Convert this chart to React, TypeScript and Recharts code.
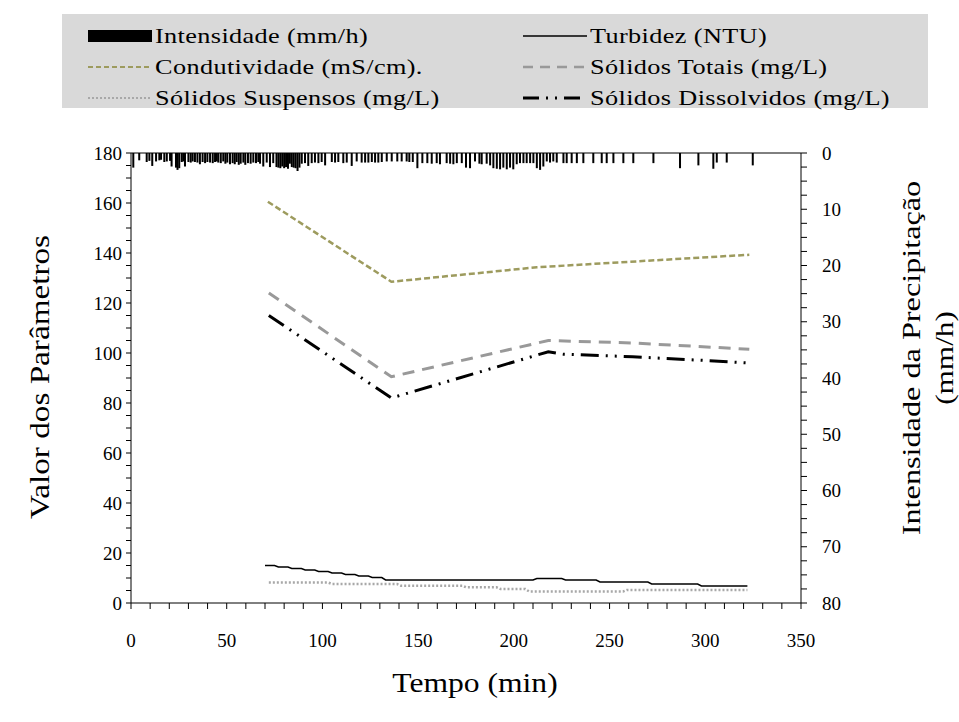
import {Bar, ComposedChart, Line, ReferenceLine, XAxis, YAxis} from "recharts";

// precipitação: tempo (min) e intensidade (mm/h)
const rainTime = [
  1.2, 4.3, 8.2, 9.6, 11.1, 13.1, 14.8, 15.7, 17.4, 18.7, 20.4, 21.2, 23.5, 24.3, 25.2, 26.5, 27.3, 28.2,
  30, 31.2, 32.2, 33.4, 34.7, 36, 37.4, 38.7, 39.9, 41.3, 42.7, 43.9, 44.8, 45.6, 46.9, 48.2, 49.3, 50.3,
  51.7, 53.1, 54.2, 55.2, 56.3, 57.3, 58.7, 59.7, 61.1, 62.5, 63.9, 65.3, 66.5, 67.4, 69.1, 70.9, 72.6, 74.3,
  76, 77, 78, 79, 80, 81, 82, 83, 84, 85, 86, 87, 88, 89.2, 90.9, 92.6, 94.4, 96.1, 97.9, 99.6, 101.4,
  104.9, 106.6, 108.3, 110.9, 112.7, 115.3, 117.9, 120.5, 122.3, 124, 125.8, 127.5, 129.2, 131, 133.6, 136.2,
  139.1, 141.4, 144, 145.4, 147.2, 149.6, 152.2, 154.8, 157.1, 159.7, 161.4, 164.9, 166.7, 168.4, 170.2,
  172.8, 175, 177.1, 179.7, 182, 183.2, 185.8, 187.6, 189.3, 191.1, 192.8, 194.5, 196.3, 198, 199.7, 201.5,
  203.2, 205, 206.7, 208.5, 210.2, 212, 213.7, 215.4, 217.2, 218.9, 220.6, 222.4, 225.9, 227.6, 230.2,
  232.9, 236.3, 241.5, 245.9, 248.5, 252, 257.2, 262.4, 272.9, 286.8, 296.4, 304.2, 306, 311.2, 324.8,
];
const rainValue = [
  2.6, 1.3, 1.6, 1.4, 2.3, 1.5, 1.3, 1.2, 1.6, 1.5, 1.4, 2.4, 2.6, 3.0, 2.7, 1.6, 1.5, 2.4,
  1.6, 1.7, 1.5, 1.6, 1.7, 2.0, 1.6, 1.8, 1.6, 1.7, 1.8, 1.6, 1.5, 1.7, 1.8, 1.5, 1.9, 1.7,
  2.0, 1.8, 2.0, 1.6, 2.1, 1.9, 1.7, 2.1, 1.8, 1.9, 1.7, 1.8, 1.6, 1.9, 2.4, 1.7, 2.5, 1.8,
  2.5, 2.6, 2.7, 2.4, 2.7, 2.5, 2.8, 1.9, 2.5, 2.6, 2.7, 3.2, 2.6, 1.9, 1.8, 2.3, 1.8, 1.7, 1.8, 1.6, 2.2,
  1.6, 1.7, 1.6, 1.8, 1.7, 2.3, 1.5, 1.7, 1.7, 1.7, 1.6, 1.7, 1.7, 1.6, 1.5, 1.5,
  1.5, 1.5, 1.5, 1.6, 1.6, 2.7, 1.8, 1.8, 1.9, 1.8, 2.0, 1.8, 1.9, 2.0, 1.8,
  1.8, 2.6, 2.7, 1.5, 1.9, 2.0, 1.9, 2.2, 2.7, 2.8, 2.9, 2.6, 2.9, 2.6, 2.9, 2.0,
  1.8, 1.8, 1.8, 1.8, 1.8, 2.7, 3.0, 2.4, 1.5, 1.7, 1.5, 1.7, 1.8, 1.8, 1.8,
  1.8, 1.8, 1.8, 1.8, 1.8, 1.8, 1.8, 1.8, 1.8, 2.7, 2.2, 2.8, 1.7, 1.7, 2.2,
];

// turbidez (NTU)
const turbTime = [70, 75, 77, 82, 84, 89, 91, 96, 98, 103, 105, 110, 112, 117, 119, 124, 126, 131, 133, 210, 212, 225, 227, 243, 245, 270, 272, 296, 298, 322];
const turbValue = [15, 15, 14.4, 14.4, 13.8, 13.8, 13.2, 13.2, 12.6, 12.6, 12, 12, 11.4, 11.4, 10.8, 10.8, 10.2, 10.2, 9.2, 9.2, 9.8, 9.8, 9.2, 9.2, 8.4, 8.4, 7.6, 7.6, 6.8, 6.8];

// condutividade (mS/cm)
const condTime = [71.5, 136, 212, 323];
const condValue = [160.5, 128.5, 134.3, 139.3];

// sólidos totais (mg/L)
const stTime = [72, 136, 218, 262, 323];
const stValue = [124, 90.5, 105, 104, 101.5];

// sólidos suspensos (mg/L)
const ssTime = [72, 103, 105, 139, 141, 173, 175, 191, 193, 206, 208, 257, 259, 322];
const ssValue = [8.2, 8.2, 7.6, 7.6, 6.9, 6.9, 6.3, 6.3, 5.6, 5.6, 4.6, 4.6, 5.2, 5.2];

// sólidos dissolvidos (mg/L)
const sdTime = [72, 136, 218, 226, 262, 300, 323];
const sdValue = [115, 82, 100.5, 99.5, 98.5, 97, 96];

const xTicks = Array.from({length: 36}, (_, i) => i * 10);
const leftTicks = Array.from({length: 37}, (_, i) => i * 5);
const rightTicks = Array.from({length: 33}, (_, i) => i * 2.5);

type Row = {t: number; [k: string]: number};
const rows = new Map<number, Row>();
const put = (times: number[], values: number[], key: string) => {
  times.forEach((t, i) => {
    const r = rows.get(t) ?? {t};
    r[key] = values[i];
    rows.set(t, r);
  });
};
put(rainTime, rainValue, "rain");
put(turbTime, turbValue, "turb");
put(condTime, condValue, "cond");
put(stTime, stValue, "st");
put(ssTime, ssValue, "ss");
put(sdTime, sdValue, "sd");
const data = [...rows.values()].sort((a, b) => a.t - b.t);

const FONT = "Liberation Serif, serif";
const OLIVE = "#9d9b5e";
const GRAY = "#999999";
const LIGHT = "#a8a8a8";

const legendItems = [
  {label: "Intensidade (mm/h)", kind: "bar"},
  {label: "Turbidez (NTU)", stroke: "#000", width: 1.5, dash: undefined},
  {label: "Condutividade (mS/cm).", stroke: OLIVE, width: 2, dash: "5 3"},
  {label: "Sólidos Totais (mg/L)", stroke: GRAY, width: 2.5, dash: "10 7"},
  {label: "Sólidos Suspensos (mg/L)", stroke: LIGHT, width: 2, dash: "2 2"},
  {label: "Sólidos Dissolvidos (mg/L)", stroke: "#000", width: 3, dash: "16 7 2 7 2 7"},
];

function Swatch({item}: {item: any}) {
  return (
    <svg width={64} height={14} style={{display: "block"}}>
      {item.kind === "bar" ? (
        <rect x={0} y={1} width={64} height={12} fill="#000"/>
      ) : (
        <line x1={0} y1={7} x2={64} y2={7} stroke={item.stroke} strokeWidth={item.width} strokeDasharray={item.dash}/>
      )}
    </svg>
  );
}

// barra de chuva pendurada no topo, largura fixa de 2px
const RainBar = (props: any) => {
  const {x, y, width, height} = props;
  if (x == null || !height) return null;
  const cx = x + width / 2;
  const top = Math.min(y, y + height);
  return <rect x={cx - 1} y={top} width={2} height={Math.abs(height)} fill="#000"/>;
};

export default function App() {
  const fmtX = (v: number) => (v % 50 === 0 ? String(v) : "");
  const fmtL = (v: number) => (v % 20 === 0 ? String(v) : "");
  const fmtR = (v: number) => (v % 10 === 0 ? String(v) : "");
  const tickStyle = {fill: "#000", fontSize: 19, fontFamily: FONT};

  return (
    <div style={{position: "absolute", left: 0, top: 0, width: 959, height: 722, background: "#fff", fontFamily: FONT}}>
      <ComposedChart width={959} height={722} data={data} margin={{top: 153, right: 98, bottom: 79, left: 71}}>
        <XAxis
          dataKey="t"
          type="number"
          domain={[0, 350]}
          ticks={xTicks}
          interval={0}
          tickFormatter={fmtX}
          tick={tickStyle}
          tickSize={6}
          tickMargin={25}
          height={40}
          stroke="#000"
          allowDataOverflow
        />
        <YAxis
          yAxisId="left"
          domain={[0, 180]}
          ticks={leftTicks}
          interval={0}
          tickFormatter={fmtL}
          tick={tickStyle}
          tickSize={5}
          tickMargin={4}
          width={60}
          stroke="#000"
        />
        <YAxis
          yAxisId="right"
          orientation="right"
          reversed
          domain={[0, 80]}
          ticks={rightTicks}
          interval={0}
          tickFormatter={fmtR}
          tick={{...tickStyle, textAnchor: "start"}}
          tickSize={6}
          tickMargin={15}
          width={60}
          stroke="#000"
        />
        <ReferenceLine yAxisId="left" y={180} stroke="#000" strokeWidth={1}/>
        <Bar yAxisId="right" dataKey="rain" fill="#000" shape={RainBar} isAnimationActive={false}/>
        <Line yAxisId="left" dataKey="turb" stroke="#000" strokeWidth={1.5} dot={false} connectNulls isAnimationActive={false}/>
        <Line yAxisId="left" dataKey="ss" stroke={LIGHT} strokeWidth={2.5} strokeDasharray="2 2" dot={false} connectNulls isAnimationActive={false}/>
        <Line yAxisId="left" dataKey="cond" stroke={OLIVE} strokeWidth={2.5} strokeDasharray="6 3" dot={false} connectNulls isAnimationActive={false}/>
        <Line yAxisId="left" dataKey="st" stroke={GRAY} strokeWidth={3} strokeDasharray="12 8" dot={false} connectNulls isAnimationActive={false}/>
        <Line yAxisId="left" dataKey="sd" stroke="#000" strokeWidth={3} strokeDasharray="18 7 2 7 2 7" dot={false} connectNulls isAnimationActive={false}/>
      </ComposedChart>

      {/* legenda */}
      <div style={{position: "absolute", left: 62, top: 14, width: 866, height: 94, background: "#d9d9d9"}}>
        {legendItems.map((item, i) => {
          const col = i % 2;
          const row = Math.floor(i / 2);
          return (
            <div
              key={item.label}
              style={{
                position: "absolute",
                left: col === 0 ? 26 : 461,
                top: 8 + row * 31,
                height: 28,
                display: "flex",
                alignItems: "center",
                gap: 3,
                fontSize: 21,
                whiteSpace: "nowrap",
              }}
            >
              <Swatch item={item}/>
              <span style={{display: "inline-block", transform: "scaleX(1.25)", transformOrigin: "left center", letterSpacing: 0.3}}>
                {item.label}
              </span>
            </div>
          );
        })}
      </div>

      <div style={{position: "absolute", left: 475, top: 683, transform: "translate(-50%, -50%) scaleX(1.17)", fontSize: 27, whiteSpace: "nowrap"}}>
        Tempo (min)
      </div>
      <div style={{position: "absolute", left: 40, top: 377, transform: "translate(-50%, -50%) rotate(-90deg) scaleX(1.23)", fontSize: 27, whiteSpace: "nowrap"}}>
        Valor dos Parâmetros
      </div>
      <div style={{position: "absolute", left: 912, top: 358, transform: "translate(-50%, -50%) rotate(-90deg) scaleX(1.24)", fontSize: 26, whiteSpace: "nowrap"}}>
        Intensidade da Precipitação
      </div>
      <div style={{position: "absolute", left: 945, top: 358, transform: "translate(-50%, -50%) rotate(-90deg) scaleX(1.2)", fontSize: 26, whiteSpace: "nowrap"}}>
        (mm/h)
      </div>
    </div>
  );
}
